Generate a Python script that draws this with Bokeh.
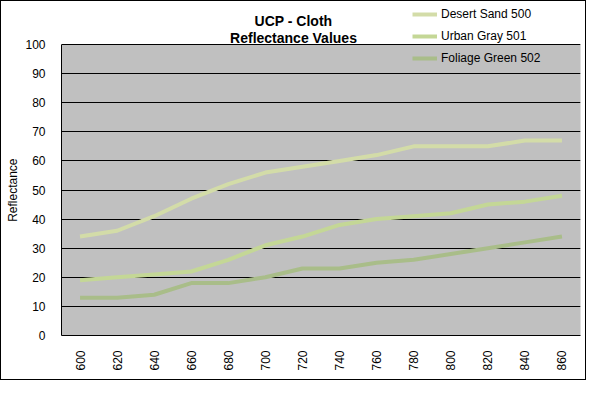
import math
from bokeh.plotting import figure
from bokeh.models import Range1d, FactorRange, Legend, LegendItem, Label, FixedTicker, BoxAnnotation
from bokeh.embed import file_html
from bokeh.resources import INLINE

wavelengths = ["600", "620", "640", "660", "680", "700", "720", "740",
               "760", "780", "800", "820", "840", "860"]
desert_sand = [34, 36, 41, 47, 52, 56, 58, 60, 62, 65, 65, 65, 67, 67]
urban_gray = [19, 20, 21, 22, 26, 31, 34, 38, 40, 41, 42, 45, 46, 48]
foliage_green = [13, 13, 14, 18, 18, 20, 23, 23, 25, 26, 28, 30, 32, 34]
y_ticks = [0, 10, 20, 30, 40, 50, 60, 70, 80, 90, 100]
series_names = ["Desert Sand 500", "Urban Gray 501", "Foliage Green 502"]
series_colors = ["#d3dca8", "#c4d796", "#a9bd89"]

FONT = "Liberation Sans"

W, H = 586, 380
LEFT, RIGHT, BOTTOM = 60, 7, 46
PLOT_H = 291  # pixel height of the 0..100 value area
FRAME_H = H - BOTTOM
y_top = y_ticks[-1] * FRAME_H / PLOT_H

p = figure(width=W, height=H, output_backend="svg", toolbar_location=None,
           x_range=FactorRange(*wavelengths), y_range=Range1d(0, y_top),
           min_border_left=LEFT, min_border_right=RIGHT, min_border_top=0,
           min_border_bottom=BOTTOM)
p.styles = {"border": "1px solid black", "box-sizing": "border-box"}

p.background_fill_color = "white"
p.border_fill_color = "white"
p.outline_line_color = None

# gray plot area from 0 to 100
p.add_layout(BoxAnnotation(bottom=y_ticks[0], top=y_ticks[-1], fill_color="#c0c0c0",
                           fill_alpha=1, line_color="#808080", line_width=1, level="image"))

p.xgrid.grid_line_color = None
p.ygrid.grid_line_color = "black"
p.ygrid.grid_line_width = 1
p.yaxis.ticker = FixedTicker(ticks=y_ticks)
p.yaxis.bounds = (y_ticks[0], y_ticks[-1])

for ax in (p.xaxis, p.yaxis):
    ax.axis_line_color = "black"
    ax.major_tick_line_color = None
    ax.minor_tick_line_color = None
    ax.major_label_text_font = FONT
    ax.major_label_text_font_size = "12px"
    ax.major_label_text_color = "black"

p.yaxis.major_label_standoff = 10
# trailing no-break spaces shift the rotated label down toward the gray area's centre
p.yaxis.axis_label = "Reflectance" + "\u00a0" * 13
p.yaxis.axis_label_text_font = FONT
p.yaxis.axis_label_text_font_size = "12px"
p.yaxis.axis_label_text_font_style = "normal"
p.yaxis.axis_label_text_color = "black"
p.yaxis.axis_label_standoff = 2
p.xaxis.major_label_orientation = math.pi / 2
p.xaxis.major_label_standoff = 9

renderers = []
for vals, color in zip([desert_sand, urban_gray, foliage_green], series_colors):
    r = p.line(wavelengths, vals, line_color=color, line_width=4)
    renderers.append(r)

legend = Legend(items=[LegendItem(label=n, renderers=[r]) for n, r in zip(series_names, renderers)],
                location=(351, 267), orientation="vertical",
                label_text_font=FONT, label_text_font_size="12px", label_text_color="black",
                glyph_width=25, glyph_height=20, label_height=20,
                spacing=2, padding=0, margin=0, label_standoff=4,
                border_line_color=None, background_fill_alpha=0)
p.add_layout(legend, "center")

for txt, yy in [("UCP - Cloth", 315), ("Reflectance Values", 298)]:
    p.add_layout(Label(x=232, y=yy, x_units="screen", y_units="screen", text=txt,
                       text_font=FONT, text_font_size="14px", text_font_style="bold",
                       text_color="black", text_align="center", text_baseline="middle"))

open("out.html", "w").write(file_html(p, INLINE))
